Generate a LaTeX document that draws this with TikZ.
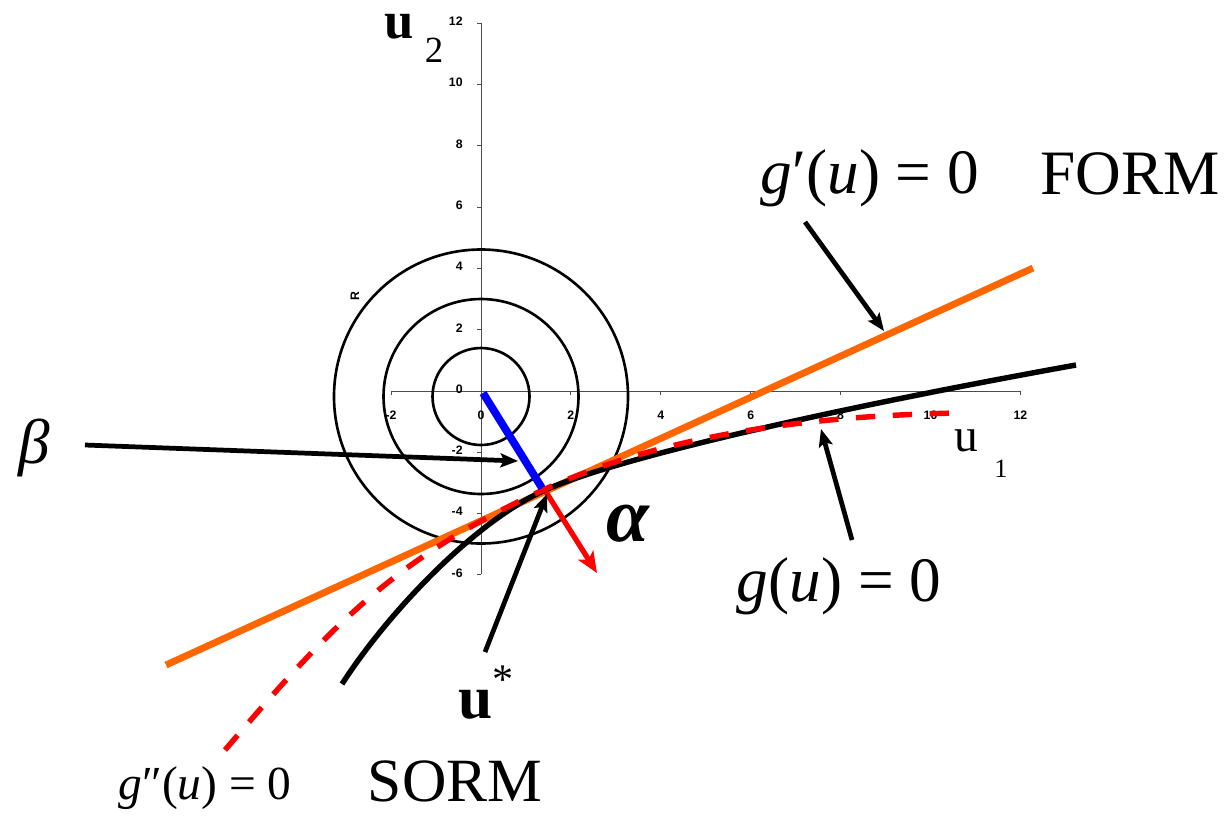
\documentclass[tikz,border=0pt]{standalone}
\usepackage{fontspec}
\setmainfont{Liberation Serif}
\newfontfamily\axisfont{Liberation Sans}
\usetikzlibrary{arrows.meta}

\definecolor{formorange}{RGB}{255,102,0}

\begin{document}
\begin{tikzpicture}[x=0.02cm,y=-0.02cm,
    axis/.style={gray!60!black,line width=0.5pt},
    ring/.style={line width=1.5pt},
    pointer/.style={-{Stealth[length=10pt,width=8pt,inset=2pt]},line width=2.7pt},
    ticklbl/.style={font=\axisfont\bfseries\fontsize{7}{8}\selectfont,inner sep=0pt},
    big/.style={font=\fontsize{36}{40}\selectfont,inner sep=0pt},
    small/.style={font=\fontsize{27}{30}\selectfont,inner sep=0pt}]
  \useasboundingbox (0,0) rectangle (1230,816);

  % axes with ticks and tick labels
  \draw[axis] (391,391) -- (1021,391);
  \draw[axis] (481,22.7) -- (481,574.3);
  \foreach \k in {-2,0,...,12} {
    \draw[axis] ({481+44.95*\k},391) -- ++(0,4);
    \node[ticklbl] at ({481+44.95*\k},415) {\k};
  }
  \foreach \k in {-6,-4,...,12} {
    \draw[axis] (481,{391-30.64*\k}) -- ++(-4,0);
    \node[ticklbl,anchor=east] at (463,{389-30.64*\k}) {\k};
  }
  \node[ticklbl,rotate=90] (rlbl) at (355,296) {R};

  % axis names
  \node[font=\bfseries\fontsize{30}{32}\selectfont,inner sep=0pt] (utwo) at (399,27) {u};
  \node[font=\fontsize{21}{24}\selectfont,inner sep=0pt] (utwoidx) at (434,50) {2};
  \node[font=\fontsize{27}{30}\selectfont,inner sep=0pt] (uone) at (966,441) {u};
  \node[font=\fontsize{15}{18}\selectfont,inner sep=0pt] (uoneidx) at (1001,469) {1};

  % circles round the origin
  \foreach \r in {48.5,97.5,147}
    \draw[ring] (481,396.5) ellipse ({\r} and {\r});

  % FORM tangent, limit state, SORM approximation
  \coordinate (formA) at (166,665);
  \coordinate (formB) at (1033,268);
  \coordinate (ustar) at (543,491);
  \draw[formorange,line width=3.9pt] (formA) -- (formB);
  \draw[line width=3.1pt] (342,684) .. controls (387,614) and (473,523) .. (ustar)
    .. controls (613,459) and (826,410) .. (1076,365);
  \draw[red,line width=3.1pt,dash pattern=on 11pt off 10pt]
    (225,750) .. controls (330,627) and (393,558.7) .. (543,490)
    .. controls (663,435) and (807,416) .. (957,413);

  % design point, beta and alpha
  \coordinate (origin) at (483,393);
  \draw[blue,line width=4.4pt] (origin) -- (542,488);
  \coordinate (alphatip) at (597,573);
  \draw[red,line width=3pt,-{Stealth[length=12pt,width=10pt,inset=3pt]}] (546,492) -- (alphatip);

  % labels
  \node[big] (betalbl) at (34,448) {\itshape β};
  \node[font=\bfseries\itshape\fontsize{44}{46}\selectfont,inner sep=0pt] (alphalbl) at (628,524) {α};
  \node[font=\bfseries\fontsize{35}{38}\selectfont,inner sep=0pt] (ustarlbl) at (476,705) {u};
  \node[font=\fontsize{24}{26}\selectfont,inner sep=0pt] (ustaridx) at (503,680) {*};
  \node[big] (gprime) at (870,178) {\textit{g}′(\textit{u}) = 0};
  \node[big] (form) at (1130,174) {FORM};
  \node[big] (glimit) at (839,586) {\textit{g}(\textit{u}) = 0};
  \node[small] (gsecond) at (205,788) {\textit{g}″(\textit{u}) = 0};
  \node[big,font=\fontsize{35}{38}\selectfont] (sorm) at (455,781) {SORM};

  % pointers
  \coordinate (betatail) at (85,445);
  \coordinate (betatip) at (518,461);
  \coordinate (ustartail) at (485,652);
  \coordinate (ustartip) at (547,494);
  \coordinate (formtail) at (805,222);
  \coordinate (formtip) at (884,331);
  \coordinate (gtail) at (852,540);
  \coordinate (gtip) at (821,429);
  \draw[pointer] (betatail) -- (betatip);
  \draw[pointer] (ustartail) -- (ustartip);
  \draw[pointer] (formtail) -- (formtip);
  \draw[pointer] (gtail) -- (gtip);
\end{tikzpicture}
\end{document}
